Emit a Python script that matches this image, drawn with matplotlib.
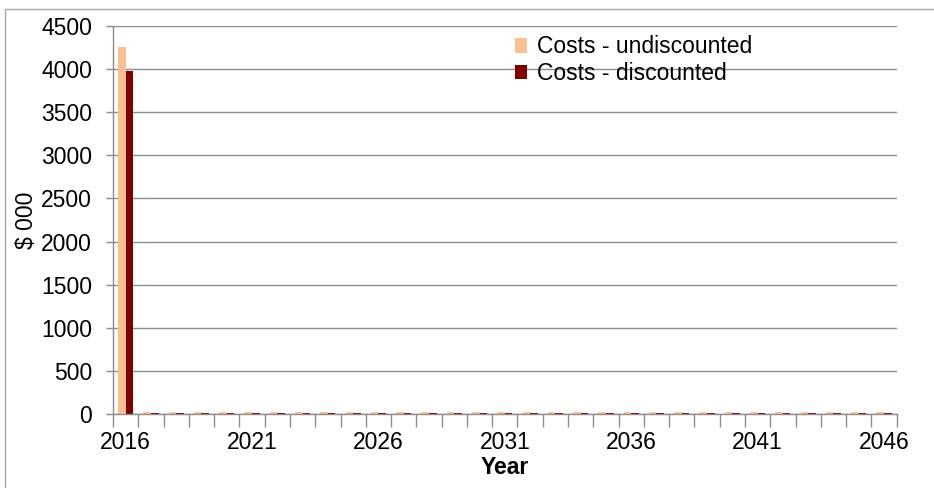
import numpy as np
import matplotlib
matplotlib.use("Agg")
import matplotlib.pyplot as plt
from matplotlib.patches import Rectangle

plt.rcParams['font.family'] = ['Liberation Sans', 'DejaVu Sans']

years = list(range(2016, 2047))
# $000 per year
undiscounted = [4260] + [18] * 30
discounted = [3975, 17, 16, 16, 15, 15, 14, 14, 14, 13, 13, 13, 12, 12, 12, 12,
              11, 11, 11, 11, 10, 10, 10, 10, 10, 9, 9, 9, 9, 9, 9]
tick_labels = [str(y) if (y - 2016) % 5 == 0 else "" for y in years]

col_undisc = "#FAC090"
col_disc = "#800000"
grey = "#8c8c8c"
fs = 16.5


def main():
    fig = plt.figure(figsize=(9.34, 4.88), dpi=100)
    ax = fig.add_axes([0.121, 0.1516, 0.839, 0.7951])

    x = np.arange(len(years))
    w = 0.3
    ax.bar(x - w / 2, undiscounted, w, color=col_undisc, label="Costs - undiscounted")
    ax.bar(x + w / 2, discounted, w, color=col_disc, label="Costs - discounted")

    ax.set_xlim(-0.5, len(years) - 0.5)
    ax.set_ylim(0, 4500)
    ax.set_yticks(range(0, 4501, 500))
    ax.yaxis.grid(True, color=grey, linewidth=1)
    ax.set_axisbelow(True)

    # labels every 5 years, tick marks between categories
    ax.set_xticks(x[::5])
    ax.set_xticklabels([tick_labels[i] for i in x[::5]])
    ax.set_xticks(np.arange(-0.5, len(years)), minor=True)
    ax.tick_params(axis='x', which='major', length=0, pad=12, labelsize=fs)
    ax.tick_params(axis='x', which='minor', length=9, width=1, color=grey)
    ax.tick_params(axis='y', length=5, width=1, color=grey, pad=10, labelsize=fs)

    for s in ['top', 'right']:
        ax.spines[s].set_visible(False)
    for s in ['left', 'bottom']:
        ax.spines[s].set_color(grey)
        ax.spines[s].set_linewidth(1)

    ax.set_xlabel("Year", fontsize=fs, fontweight='bold', labelpad=2)
    ax.set_ylabel("$ 000", fontsize=fs, labelpad=2)

    ax.legend(loc='upper left', bbox_to_anchor=(0.493, 1.017), frameon=False,
              fontsize=fs, handlelength=0.5, handleheight=0.6,
              handletextpad=0.45, labelspacing=0.15, borderpad=0.2)

    # chart border
    fig.patches.append(Rectangle((4.5 / 934, -0.1), 1.2, 1 - 8.5 / 488 + 0.1,
                                 transform=fig.transFigure, fill=False,
                                 edgecolor="#a6a6a6", linewidth=1))

    fig.savefig("out.png", dpi=100)


if __name__ == "__main__":
    main()
